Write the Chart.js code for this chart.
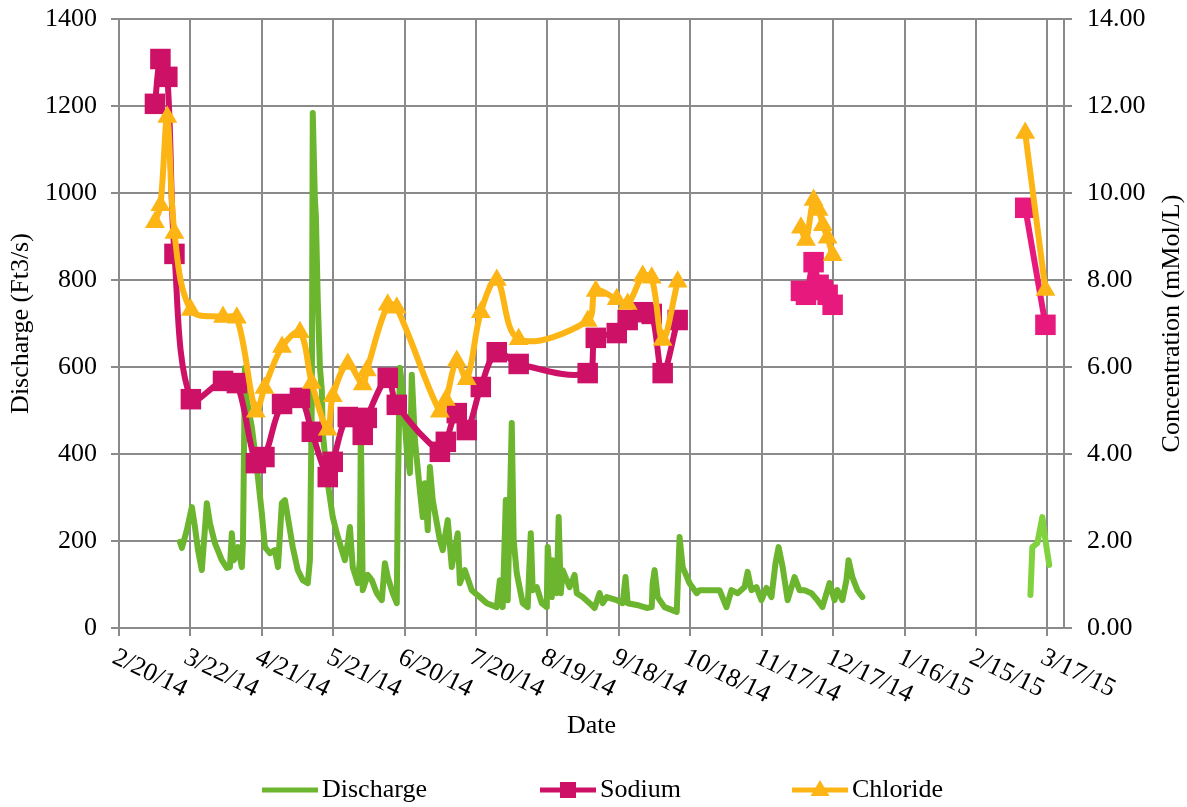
<!DOCTYPE html>
<html><head><meta charset="utf-8">
<script src="https://cdn.jsdelivr.net/npm/chart.js@4.4.1/dist/chart.umd.min.js"></script>
<style>html,body{margin:0;padding:0;background:#fff;}</style>
</head><body>
<canvas id="c" width="1187" height="807"></canvas>
<script>
// ---- data (x = days since 2/20/14) ----
const xTickValues = [0,30,60,90,120,150,180,210,240,270,300,330,360,390];
const xTickLabels = ['2/20/14','3/22/14','4/21/14','5/21/14','6/20/14','7/20/14','8/19/14','9/18/14','10/18/14','11/17/14','12/17/14','1/16/15','2/15/15','3/17/15'];

const dischargeDays = [25.6,26.4,28.5,30.6,31.9,33.2,34.8,36.9,38.2,40.3,
43.2,45.3,46.6,47.4,48.3,50.0,51.6,52.1,52.9,53.7,
55.8,57.9,60.0,61.3,63.4,65.5,66.8,68.4,69.7,70.9,
73.0,75.1,77.2,79.3,80.2,81.0,81.4,82.3,82.7,83.5,
84.4,85.2,85.6,87.7,89.8,91.5,93.6,94.9,96.1,97.0,
98.2,100.3,101.2,101.6,102.4,104.5,106.2,108.3,110.4,111.7,
112.9,115.0,116.7,117.1,118.0,118.8,120.1,120.9,122.2,123.0,
124.3,126.4,127.6,128.5,129.7,130.6,131.8,134.8,136.0,138.1,
139.8,142.3,143.2,145.3,148.2,151.6,154.5,158.7,160.0,161.2,
162.5,163.3,165.0,165.8,167.1,169.6,171.7,173.0,173.8,175.5,
177.6,179.7,180.1,181.8,182.2,183.9,184.7,185.6,186.4,189.3,
191.4,192.3,194.8,197.7,199.8,201.9,203.2,204.9,209.1,211.6,
212.8,213.7,217.5,221.7,223.8,224.2,225.0,226.3,229.2,234.3,
235.5,236.8,239.7,242.7,243.9,248.1,252.3,255.2,257.3,259.9,
262.8,264.1,265.7,267.8,269.9,272.0,274.1,275.8,277.1,278.8,
280.9,283.8,285.9,288.0,290.9,293.4,295.5,298.5,300.6,301.8,
303.9,305.6,306.5,308.1,310.2,312.3,345,
382.9,383.7,385.8,387.9,389.2,390.8];
const dischargeCfs = [198,184,225,278,232,179,133,287,241,195,
156,138,140,218,156,186,140,202,598,524,
462,370,264,186,172,179,140,287,294,255,
186,133,110,103,156,524,1184,984,949,754,
600,547,448,333,255,218,179,156,195,232,
140,103,156,455,87,122,110,80,64,149,
117,80,57,294,598,563,471,409,356,582,
432,317,255,333,225,370,294,202,179,248,
140,218,103,133,87,71,57,48,110,48,
294,64,471,202,126,57,48,218,87,94,
57,48,186,71,156,80,255,80,133,94,
122,80,71,57,46,80,57,71,64,57,
117,57,53,46,48,103,133,71,48,37,
209,140,103,80,87,87,87,48,87,80,
94,129,87,94,64,92,71,149,186,140,
64,117,87,87,80,64,48,103,64,87,
64,110,156,117,87,71,null,
76,186,195,255,202,145];

const sampleDays = [15.1,17.4,20.3,23.3,30.2,43.7,49.5,57.5,61.1,68.5,
76.0,81.0,87.7,89.8,96.1,102.4,104.1,112.9,116.7,134.8,
137.3,141.9,146.1,152.0,158.7,167.9,196.9,200.3,209.1,213.7,
220.0,223.8,228.4,234.7,260,
286.5,288.6,291.8,293.9,295.7,297.7,299.8,340,
380.7,389.2];
const sodium = [12.05,13.08,12.67,8.60,5.26,5.68,5.63,3.79,3.93,5.15,
5.29,4.51,3.47,3.82,4.85,4.44,4.83,5.75,5.13,4.05,
4.28,4.94,4.55,5.54,6.34,6.07,5.86,6.67,6.78,7.08,
7.26,7.22,5.86,7.08,null,
7.75,7.66,8.41,7.89,7.77,7.66,7.43,null,
9.66,6.97];
const chloride = [9.33,9.72,11.75,9.08,7.31,7.15,7.13,4.97,5.52,6.46,
6.80,5.63,4.56,5.33,6.07,5.60,5.92,7.43,7.36,4.97,
5.24,6.14,5.72,7.26,8.00,6.64,7.06,7.75,7.56,7.45,
8.09,8.05,6.62,7.96,null,
9.20,8.92,9.84,9.61,9.26,8.97,8.57,null,
11.38,7.77];

// ---- styling ----
const FS = 26;
const FONT = 'Liberation Serif';
const GRID = '#8a8a8a';
const C_DIS = '#6cb52e', C_DIS2 = '#80d33e';
const C_NA = '#cc1166', C_NA2 = '#e8197c';
const C_CL = '#fdb515';
const LATE = 270; // after this day, lighter colour variants

Chart.defaults.font.family = FONT;
Chart.defaults.font.size = FS;
Chart.defaults.color = '#000';

const toPts = (xs, ys) => xs.map((x, i) => ({x: x, y: ys[i]}));

const customText = {
  id: 'customText',
  afterDraw(chart) {
    const ctx = chart.ctx;
    const xs = chart.scales.x;
    const area = chart.chartArea;
    ctx.save();
    ctx.font = FS + 'px "' + FONT + '"';
    ctx.fillStyle = '#000';
    // rotated x tick labels (clockwise)
    ctx.textAlign = 'left';
    ctx.textBaseline = 'middle';
    xTickValues.forEach((v, i) => {
      const px = xs.getPixelForValue(v);
      ctx.save();
      ctx.translate(px - 5, area.bottom + 28);
      ctx.rotate(26 * Math.PI / 180);
      ctx.fillText(xTickLabels[i], 0, 0);
      ctx.restore();
    });
    // right axis title, reading bottom to top
    ctx.save();
    ctx.translate(1172, (area.top + area.bottom) / 2);
    ctx.rotate(-Math.PI / 2);
    ctx.textAlign = 'center';
    ctx.fillText('Concentration (mMol/L)', 0, 0);
    ctx.restore();
    // legend
    const ly = 790;
    const items = [
      {x: 262, text: 'Discharge', color: C_DIS, marker: null},
      {x: 540, text: 'Sodium', color: C_NA, marker: 'rect'},
      {x: 792, text: 'Chloride', color: C_CL, marker: 'tri'}
    ];
    items.forEach(it => {
      ctx.strokeStyle = it.color;
      ctx.lineWidth = 5;
      ctx.beginPath();
      ctx.moveTo(it.x, ly);
      ctx.lineTo(it.x + 56, ly);
      ctx.stroke();
      const cx = it.x + 28;
      ctx.fillStyle = it.color;
      if (it.marker === 'rect') {
        ctx.fillRect(cx - 8, ly - 8, 16, 16);
      } else if (it.marker === 'tri') {
        ctx.beginPath();
        ctx.moveTo(cx, ly - 10);
        ctx.lineTo(cx + 9.5, ly + 6);
        ctx.lineTo(cx - 9.5, ly + 6);
        ctx.closePath();
        ctx.fill();
      }
      ctx.fillStyle = '#000';
      ctx.textAlign = 'left';
      ctx.textBaseline = 'middle';
      ctx.fillText(it.text, it.x + 60, ly);
    });
    ctx.restore();
  }
};

const noPad = s => { s.paddingTop = 0; s.paddingBottom = 0; };

new Chart(document.getElementById('c'), {
  type: 'line',
  data: {
    datasets: [
      {
        label: 'Chloride',
        data: toPts(sampleDays, chloride),
        yAxisID: 'y1',
        order: 0,
        borderColor: C_CL,
        backgroundColor: C_CL,
        borderWidth: 6,
        pointStyle: 'triangle',
        pointRadius: 11.5,
        pointBorderWidth: 0,
        pointBackgroundColor: C_CL,
        tension: 0.35,
        spanGaps: false
      },
      {
        label: 'Sodium',
        data: toPts(sampleDays, sodium),
        yAxisID: 'y1',
        order: 1,
        borderColor: C_NA,
        backgroundColor: C_NA,
        borderWidth: 6,
        pointStyle: 'rect',
        pointRadius: 14.5,
        pointBorderWidth: 0,
        pointBackgroundColor: c => (c.raw && c.raw.x > LATE) ? C_NA2 : C_NA,
        segment: { borderColor: s => s.p0.parsed.x > LATE ? C_NA2 : C_NA },
        tension: 0.35,
        spanGaps: false
      },
      {
        label: 'Discharge',
        data: toPts(dischargeDays, dischargeCfs),
        yAxisID: 'y',
        order: 2,
        borderColor: C_DIS,
        backgroundColor: C_DIS,
        borderWidth: 6,
        borderJoinStyle: 'round',
        borderCapStyle: 'round',
        pointRadius: 0,
        tension: 0,
        segment: { borderColor: s => s.p0.parsed.x > 350 ? C_DIS2 : C_DIS },
        spanGaps: false
      }
    ]
  },
  options: {
    responsive: false,
    animation: false,
    events: [],
    layout: { padding: { top: 19, bottom: 40, left: 0, right: 0 } },
    plugins: { legend: { display: false }, tooltip: { enabled: false } },
    scales: {
      x: {
        type: 'linear',
        min: 0,
        max: 397,
        afterBuildTicks: s => { s.ticks = xTickValues.map(v => ({value: v})); },
        afterFit: s => { s.height = 807 - 40 - 628; s.paddingLeft = 0; s.paddingRight = 0; },
        ticks: { display: false },
        grid: { color: GRID, lineWidth: 2, tickLength: 8, drawTicks: true },
        border: { color: GRID, width: 2 },
        title: { display: true, text: 'Date', padding: { top: 0, bottom: 25 } }
      },
      y: {
        position: 'left',
        min: 0,
        max: 1400,
        afterFit: s => { s.width = 119; noPad(s); },
        ticks: { stepSize: 200, padding: 14, callback: v => String(v) },
        grid: { color: GRID, lineWidth: 2, tickLength: 8 },
        border: { color: GRID, width: 2 },
        title: { display: true, text: 'Discharge (Ft3/s)', padding: { top: 6, bottom: 0 } }
      },
      y1: {
        position: 'right',
        min: 0,
        max: 14,
        afterFit: s => { s.width = 123; noPad(s); },
        ticks: { stepSize: 2, padding: 15, callback: v => Number(v).toFixed(2) },
        grid: { drawOnChartArea: false, color: GRID, lineWidth: 2, tickLength: 8 },
        border: { color: GRID, width: 2 }
      }
    }
  },
  plugins: [customText]
});
</script>
</body></html>
